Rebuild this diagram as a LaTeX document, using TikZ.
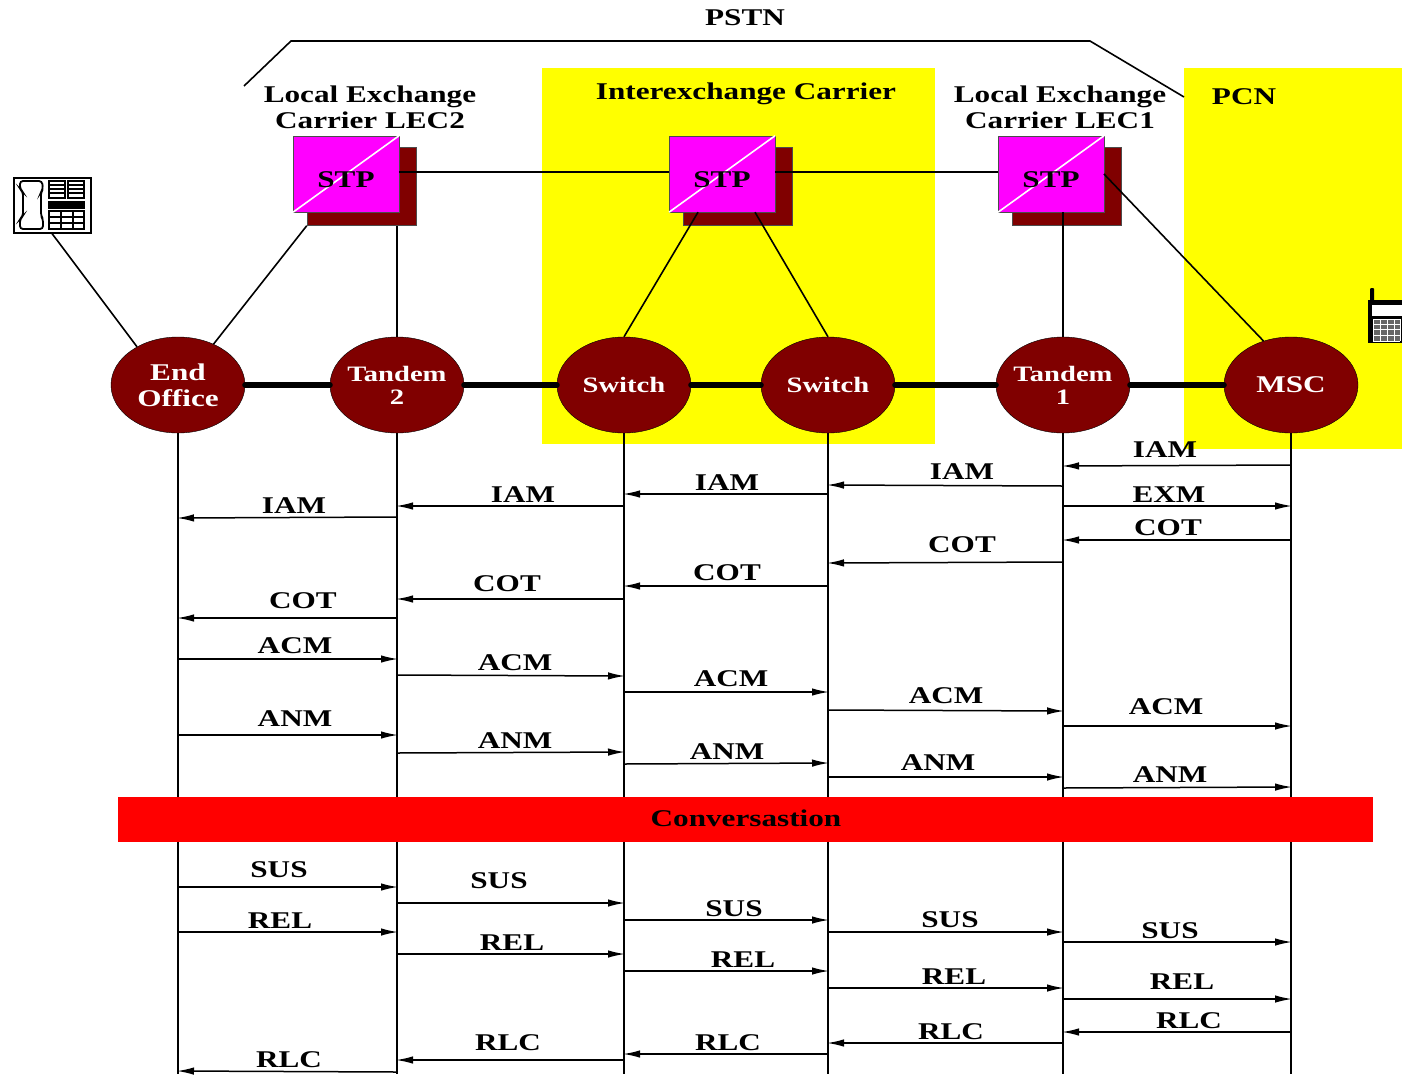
\documentclass[tikz,border=0pt]{standalone}
\usepackage{fontspec}
\setmainfont[FakeStretch=1.3]{Liberation Serif}
\usetikzlibrary{positioning,shapes.geometric,arrows.meta}
\definecolor{maroonfill}{RGB}{128,0,0}
\definecolor{stpfill}{RGB}{255,0,255}
\definecolor{regionfill}{RGB}{255,255,0}
\definecolor{bandfill}{RGB}{255,0,0}

\begin{document}
\begin{tikzpicture}[
    x=1pt, y=-1pt,
    every node/.style={font=\fontsize{24}{26}\selectfont\bfseries},
    office/.style={ellipse, draw=black, fill=maroonfill, text=white, minimum width=134pt, minimum height=96pt, inner sep=-8pt, align=center, font=\fontsize{22}{23}\selectfont\bfseries},
    officebig/.style={office, font=\fontsize{24}{26}\selectfont\bfseries},
    stpbox/.style={rectangle, draw=black!70, fill=stpfill, minimum width=105.5pt, minimum height=76pt, inner sep=0pt},
    stpshadow/.style={rectangle, draw=black!70, fill=maroonfill, minimum width=109.5pt, minimum height=78pt, inner sep=0pt},
    region/.style={rectangle, fill=regionfill, inner sep=0pt},
    title/.style={align=center, inner sep=0pt},
    msglabel/.style={inner sep=0pt},
    signal/.style={line width=1.6pt},
    trunk/.style={line width=6pt, line cap=round},
    msg/.style={line width=1.5pt, shorten >=-1pt, -{Latex[length=17pt,width=7.5pt]}}
]
\useasboundingbox (0,0) rectangle (1402,1074);

% Regions
\node[region, minimum width=393pt, minimum height=376pt] (iec) at (738.5,256) {};
\node[region, minimum width=218pt, minimum height=381pt] (pcn) at (1293,258.5) {};

% Titles
\node[title] (pstn) at (745,18) {PSTN};
\node[title] (lec2) at (370,107) {Local Exchange\\Carrier LEC2};
\node[title] (iectitle) at (746,94) {Interexchange Carrier};
\node[title] (lec1) at (1060,107) {Local Exchange\\Carrier LEC1};
\node[title] (pcntitle) at (1244,97) {PCN};

% Bracket
\coordinate (pstnl) at (244,86);
\coordinate (pstnr) at (1184,97);
\draw[signal] (pstnl) -- (291,41) -- (1090,41) -- (pstnr);

% Offices
\node[officebig] (eo) at (178,385) {End\\Office};
\node[office] (tan2) at (397,385) {Tandem\\2};
\node[office] (sw1) at (624,385) {Switch};
\node[office] (sw2) at (828,385) {Switch};
\node[office] (tan1) at (1063,385) {Tandem\\1};
\node[officebig] (msc) at (1291,385) {MSC};

% STPs
\foreach \name/\px in {stpa/346,stpb/722,stpc/1051} {
  \node[stpshadow] (\name s) at (\px+15.7,186.5) {};
  \node[stpbox] (\name) at (\px,174) {};
  \draw[white, line width=1.6pt] (\name.south west) -- (\name.north east);
  \node[msglabel] (\name t) at (\px,180) {STP};
}

% Phones
\node[rectangle, draw=black, line width=2pt, fill=white, minimum width=77pt, minimum height=55pt, inner sep=0pt] (phone) at (52,205) {};
\draw[line width=1.8pt, rounded corners=3pt] (20,181) -- (42,181) -- (43,189) -- (41,192) -- (41,216) -- (43,219) -- (43,229) -- (20,229) -- (20,219) -- (23,216) -- (23,192) -- (20,189) -- cycle;
\draw[line width=1.6pt] (49,181) rectangle (65,198) (68,181) rectangle (84,198) (49,211) rectangle (84,229);
\foreach \ky in {185,189,193} {
  \draw[line width=1.3pt] (49,\ky) -- (65,\ky) (68,\ky) -- (84,\ky);
}
\fill[black] (48,201) rectangle (85,209);
\foreach \ky in {217,223} {
  \draw[line width=1.3pt] (49,\ky) -- (84,\ky);
}
\foreach \kx in {61,73} {
  \draw[line width=1.3pt] (\kx,211) -- (\kx,229);
}

\node[rectangle, fill=black, minimum width=34pt, minimum height=43pt, inner sep=0pt] (mobile) at (1385,321.5) {};
\fill[black, rounded corners=1pt] (1370,288) rectangle (1374,303);
\fill[white] (1372,305) rectangle (1402,316);
\fill[black!60] (1373,319) rectangle (1400,341);
\foreach \ky in {319,324,329,335,341} {
  \draw[white, line width=.9pt] (1373,\ky) -- (1400,\ky);
}
\foreach \kx in {1373,1380,1387,1394,1400} {
  \draw[white, line width=.9pt] (\kx,319) -- (\kx,341);
}

% Signalling links
\draw[signal] (phone.south) -- (eo.137);
\draw[signal] (stpas.south west) -- (eo.49);
\draw[signal] (tan2.north) -- (tan2 |- stpas.south);
\draw[signal] (stpa.east |- 0,172) -- (stpb.west |- 0,172);
\draw[signal] (stpb.east |- 0,172) -- (stpc.west |- 0,172);
\draw[signal] (stpb.south -| 698,0) -- (sw1.north);
\draw[signal] (stpb.south -| 755,0) -- (sw2.north);
\draw[signal] (tan1.north) -- (tan1 |- stpc.south);
\draw[signal] (stpc.east) -- (msc.122);

% Trunks
\foreach \a/\b in {eo/tan2,tan2/sw1,sw1/sw2,sw2/tan1,tan1/msc} {
  \draw[trunk] (\a.east) -- (\b.west);
}

% Lifelines
\foreach \a in {eo,tan2,sw1,sw2,tan1,msc} {
  \draw[signal] (\a.south) -- (\a |- 0,1074);
}

% Conversation band
\node[rectangle, fill=bandfill, minimum width=1255pt, minimum height=45pt, inner sep=0pt] (band) at (745.5,819.5) {};
\node[msglabel] (bandt) at (746,818) {Conversastion};

% Messages
\foreach \a/\b/\ya/\yb/\txt/\lx/\ly [count=\i] in {
  msc/tan1/465/466/IAM/1165/450, tan1/sw2/486/485/IAM/962/472, sw2/sw1/494/494/IAM/727/483,
  sw1/tan2/506/506/IAM/523/495, tan2/eo/517/518/IAM/294/506, tan1/msc/506/506/EXM/1169/495,
  msc/tan1/540/540/COT/1168/528, tan1/sw2/562/563/COT/962/545, sw2/sw1/586/586/COT/727/573,
  sw1/tan2/599/599/COT/507/584, tan2/eo/618/618/COT/303/601,
  eo/tan2/659/659/ACM/295/646, tan2/sw1/675/676/ACM/515/663, sw1/sw2/692/692/ACM/731/679,
  sw2/tan1/710/711/ACM/946/696, tan1/msc/726/726/ACM/1166/707,
  eo/tan2/735/735/ANM/295/719, tan2/sw1/753/752/ANM/515/741, sw1/sw2/764/763/ANM/727/752,
  sw2/tan1/777/777/ANM/938/763, tan1/msc/788/787/ANM/1170/775,
  eo/tan2/887/887/SUS/279/870, tan2/sw1/903/903/SUS/499/881, sw1/sw2/920/920/SUS/734/909,
  sw2/tan1/932/932/SUS/950/920, tan1/msc/942/942/SUS/1170/931,
  eo/tan2/932/932/REL/280/921, tan2/sw1/954/954/REL/512/943, sw1/sw2/971/971/REL/743/960,
  sw2/tan1/988/988/REL/954/977, tan1/msc/999/999/REL/1182/982,
  msc/tan1/1032/1032/RLC/1189/1021, tan1/sw2/1043/1043/RLC/951/1032, sw2/sw1/1054/1054/RLC/728/1043,
  sw1/tan2/1060/1060/RLC/508/1043, tan2/eo/1072/1071/RLC/289/1060} {
  \draw[msg] (\a |- 0,\ya) -- (\b |- 0,\yb);
  \node[msglabel] (msg\i) at (\lx,\ly) {\txt};
}

\end{tikzpicture}
\end{document}
